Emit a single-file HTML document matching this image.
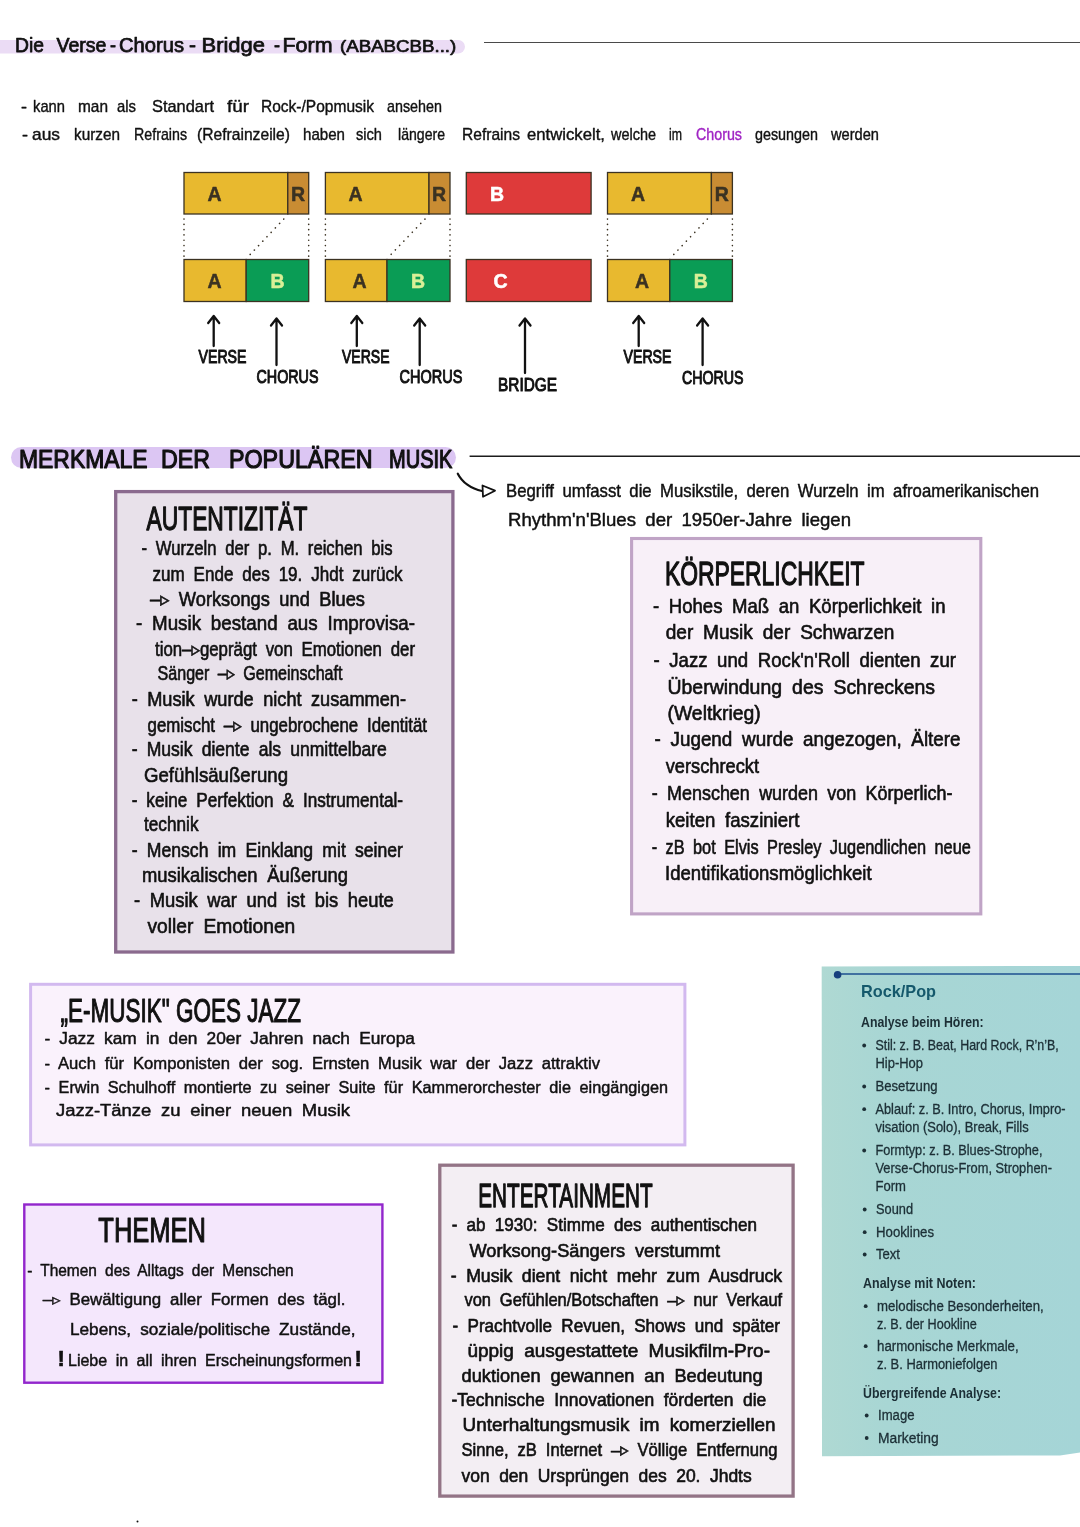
<!DOCTYPE html>
<html lang="de"><head><meta charset="utf-8"><title>Die Verse-Chorus-Bridge-Form</title>
<style>
html,body{margin:0;padding:0;background:#fff;}
svg{display:block;will-change:transform;}
text{font-family:"Liberation Sans","DejaVu Sans",sans-serif;stroke-linejoin:round;}
.tl text{font-family:"Liberation Sans","DejaVu Sans",sans-serif;}
</style></head><body>
<svg width="1080" height="1527" viewBox="0 0 1080 1527">
<rect x="-10" y="40" width="475" height="13.6" rx="6.8" fill="#ebdcf5"/>
<line x1="484" y1="42.5" x2="1080" y2="42.5" stroke="#4a4a4a" stroke-width="1.1"/>
<text y="51.9" font-size="20.8" fill="#111111" stroke="#111111" stroke-width="0.75"><tspan x="15.0" textLength="29.0" lengthAdjust="spacingAndGlyphs">Die</tspan> <tspan x="56.5" textLength="50.0" lengthAdjust="spacingAndGlyphs">Verse</tspan> <tspan x="110.0" textLength="6.0" lengthAdjust="spacingAndGlyphs">-</tspan> <tspan x="119.0" textLength="65.0" lengthAdjust="spacingAndGlyphs">Chorus</tspan> <tspan x="189.0" textLength="7.0" lengthAdjust="spacingAndGlyphs">-</tspan> <tspan x="201.5" textLength="63.5" lengthAdjust="spacingAndGlyphs">Bridge</tspan> <tspan x="274.0" textLength="6.0" lengthAdjust="spacingAndGlyphs">-</tspan> <tspan x="282.5" textLength="50.0" lengthAdjust="spacingAndGlyphs">Form</tspan></text>
<text x="340.0" y="51.9" font-size="17" fill="#111111" stroke="#111111" stroke-width="0.7" textLength="116.3" lengthAdjust="spacingAndGlyphs">(ABABCBB...)</text>
<text y="111.5" font-size="17" fill="#111111" stroke="#111111" stroke-width="0.4"><tspan x="21.0" textLength="6.0" lengthAdjust="spacingAndGlyphs">-</tspan> <tspan x="33.0" textLength="32.0" lengthAdjust="spacingAndGlyphs">kann</tspan> <tspan x="78.0" textLength="30.0" lengthAdjust="spacingAndGlyphs">man</tspan> <tspan x="117.0" textLength="19.0" lengthAdjust="spacingAndGlyphs">als</tspan> <tspan x="152.0" textLength="62.0" lengthAdjust="spacingAndGlyphs">Standart</tspan> <tspan x="227.0" textLength="22.0" lengthAdjust="spacingAndGlyphs">für</tspan> <tspan x="261.0" textLength="113.0" lengthAdjust="spacingAndGlyphs">Rock-/Popmusik</tspan> <tspan x="387.0" textLength="55.0" lengthAdjust="spacingAndGlyphs">ansehen</tspan></text>
<text y="140.0" font-size="17" fill="#111111" stroke="#111111" stroke-width="0.4"><tspan x="22.0" textLength="6.0" lengthAdjust="spacingAndGlyphs">-</tspan> <tspan x="32.0" textLength="28.0" lengthAdjust="spacingAndGlyphs">aus</tspan> <tspan x="74.0" textLength="46.0" lengthAdjust="spacingAndGlyphs">kurzen</tspan> <tspan x="134.0" textLength="53.0" lengthAdjust="spacingAndGlyphs">Refrains</tspan> <tspan x="197.0" textLength="93.0" lengthAdjust="spacingAndGlyphs">(Refrainzeile)</tspan> <tspan x="303.0" textLength="42.0" lengthAdjust="spacingAndGlyphs">haben</tspan> <tspan x="356.0" textLength="26.0" lengthAdjust="spacingAndGlyphs">sich</tspan> <tspan x="398.0" textLength="47.0" lengthAdjust="spacingAndGlyphs">längere</tspan> <tspan x="462.0" textLength="58.0" lengthAdjust="spacingAndGlyphs">Refrains</tspan> <tspan x="527.0" textLength="78.0" lengthAdjust="spacingAndGlyphs">entwickelt,</tspan> <tspan x="611.0" textLength="45.0" lengthAdjust="spacingAndGlyphs">welche</tspan> <tspan x="669.0" textLength="13.0" lengthAdjust="spacingAndGlyphs">im</tspan> <tspan x="696.0" textLength="46.0" lengthAdjust="spacingAndGlyphs" fill="#a024c4" stroke="#a024c4">Chorus</tspan> <tspan x="755.0" textLength="63.0" lengthAdjust="spacingAndGlyphs">gesungen</tspan> <tspan x="831.0" textLength="48.0" lengthAdjust="spacingAndGlyphs">werden</tspan></text>
<rect x="184.0" y="172.5" width="103.8" height="41.5" fill="#e8b92f" stroke="#3b3222" stroke-width="1.3"/>
<rect x="287.8" y="172.5" width="20.9" height="41.5" fill="#c98c33" stroke="#3b3222" stroke-width="1.3"/>
<rect x="184.0" y="259.5" width="62.2" height="42.0" fill="#e8b92f" stroke="#3b3222" stroke-width="1.3"/>
<rect x="246.2" y="259.5" width="62.5" height="42.0" fill="#0a9c55" stroke="#3b3222" stroke-width="1.3"/>
<text x="214.5" y="200.5" font-size="19.5" fill="#3b3222" font-weight="bold" text-anchor="middle" stroke="#3b3222" stroke-width="0.5">A</text>
<text x="298.0" y="200.5" font-size="19.5" fill="#3b3222" font-weight="bold" text-anchor="middle" stroke="#3b3222" stroke-width="0.5">R</text>
<text x="214.5" y="288.0" font-size="19.5" fill="#3b3222" font-weight="bold" text-anchor="middle" stroke="#3b3222" stroke-width="0.5">A</text>
<text x="277.6" y="288.0" font-size="19.5" fill="#d9ef97" font-weight="bold" text-anchor="middle" stroke="#d9ef97" stroke-width="0.5">B</text>
<line x1="184.0" y1="219.0" x2="184.0" y2="257.5" stroke="#3b3222" stroke-width="1.6" stroke-linecap="round" stroke-dasharray="0.1 5.2"/>
<line x1="308.7" y1="219.0" x2="308.7" y2="257.5" stroke="#3b3222" stroke-width="1.6" stroke-linecap="round" stroke-dasharray="0.1 5.2"/>
<line x1="283.8" y1="219.0" x2="249.2" y2="255.5" stroke="#3b3222" stroke-width="1.6" stroke-linecap="round" stroke-dasharray="0.1 6"/>
<rect x="325.4" y="172.5" width="103.6" height="41.5" fill="#e8b92f" stroke="#3b3222" stroke-width="1.3"/>
<rect x="429.0" y="172.5" width="21.0" height="41.5" fill="#c98c33" stroke="#3b3222" stroke-width="1.3"/>
<rect x="325.4" y="259.5" width="61.6" height="42.0" fill="#e8b92f" stroke="#3b3222" stroke-width="1.3"/>
<rect x="387.0" y="259.5" width="63.0" height="42.0" fill="#0a9c55" stroke="#3b3222" stroke-width="1.3"/>
<text x="355.5" y="200.5" font-size="19.5" fill="#3b3222" font-weight="bold" text-anchor="middle" stroke="#3b3222" stroke-width="0.5">A</text>
<text x="439.0" y="200.5" font-size="19.5" fill="#3b3222" font-weight="bold" text-anchor="middle" stroke="#3b3222" stroke-width="0.5">R</text>
<text x="359.5" y="288.0" font-size="19.5" fill="#3b3222" font-weight="bold" text-anchor="middle" stroke="#3b3222" stroke-width="0.5">A</text>
<text x="418.0" y="288.0" font-size="19.5" fill="#d9ef97" font-weight="bold" text-anchor="middle" stroke="#d9ef97" stroke-width="0.5">B</text>
<line x1="325.4" y1="219.0" x2="325.4" y2="257.5" stroke="#3b3222" stroke-width="1.6" stroke-linecap="round" stroke-dasharray="0.1 5.2"/>
<line x1="450.0" y1="219.0" x2="450.0" y2="257.5" stroke="#3b3222" stroke-width="1.6" stroke-linecap="round" stroke-dasharray="0.1 5.2"/>
<line x1="425.0" y1="219.0" x2="390.0" y2="255.5" stroke="#3b3222" stroke-width="1.6" stroke-linecap="round" stroke-dasharray="0.1 6"/>
<rect x="607.5" y="172.5" width="103.9" height="41.5" fill="#e8b92f" stroke="#3b3222" stroke-width="1.3"/>
<rect x="711.4" y="172.5" width="21.0" height="41.5" fill="#c98c33" stroke="#3b3222" stroke-width="1.3"/>
<rect x="607.5" y="259.5" width="62.3" height="42.0" fill="#e8b92f" stroke="#3b3222" stroke-width="1.3"/>
<rect x="669.8" y="259.5" width="62.6" height="42.0" fill="#0a9c55" stroke="#3b3222" stroke-width="1.3"/>
<text x="638.0" y="200.5" font-size="19.5" fill="#3b3222" font-weight="bold" text-anchor="middle" stroke="#3b3222" stroke-width="0.5">A</text>
<text x="721.7" y="200.5" font-size="19.5" fill="#3b3222" font-weight="bold" text-anchor="middle" stroke="#3b3222" stroke-width="0.5">R</text>
<text x="642.0" y="288.0" font-size="19.5" fill="#3b3222" font-weight="bold" text-anchor="middle" stroke="#3b3222" stroke-width="0.5">A</text>
<text x="700.7" y="288.0" font-size="19.5" fill="#d9ef97" font-weight="bold" text-anchor="middle" stroke="#d9ef97" stroke-width="0.5">B</text>
<line x1="607.5" y1="219.0" x2="607.5" y2="257.5" stroke="#3b3222" stroke-width="1.6" stroke-linecap="round" stroke-dasharray="0.1 5.2"/>
<line x1="732.4" y1="219.0" x2="732.4" y2="257.5" stroke="#3b3222" stroke-width="1.6" stroke-linecap="round" stroke-dasharray="0.1 5.2"/>
<line x1="707.4" y1="219.0" x2="672.8" y2="255.5" stroke="#3b3222" stroke-width="1.6" stroke-linecap="round" stroke-dasharray="0.1 6"/>
<rect x="466.3" y="172.5" width="124.8" height="41.5" fill="#de3a3a" stroke="#3b3222" stroke-width="1.3"/>
<rect x="466.3" y="259.5" width="124.8" height="42.0" fill="#de3a3a" stroke="#3b3222" stroke-width="1.3"/>
<text x="497.0" y="200.5" font-size="19.5" fill="#fff" font-weight="bold" text-anchor="middle" stroke="#fff" stroke-width="0.5">B</text>
<text x="500.6" y="288.0" font-size="19.5" fill="#fff" font-weight="bold" text-anchor="middle" stroke="#fff" stroke-width="0.5">C</text>
<path d="M213.7 346.0 L213.7 317.0 M208.2 323.0 L213.7 316.0 L219.2 323.0" fill="none" stroke="#111111" stroke-width="2.3" stroke-linecap="round" stroke-linejoin="round"/>
<text x="198.5" y="363.0" font-size="18" fill="#111111" stroke="#111111" stroke-width="1.0" textLength="48.0" lengthAdjust="spacingAndGlyphs">VERSE</text>
<path d="M276.5 365.0 L276.5 319.5 M271.0 325.5 L276.5 318.5 L282.0 325.5" fill="none" stroke="#111111" stroke-width="2.3" stroke-linecap="round" stroke-linejoin="round"/>
<text x="256.5" y="383.0" font-size="18" fill="#111111" stroke="#111111" stroke-width="1.0" textLength="62.0" lengthAdjust="spacingAndGlyphs">CHORUS</text>
<path d="M356.8 346.0 L356.8 317.0 M351.3 323.0 L356.8 316.0 L362.3 323.0" fill="none" stroke="#111111" stroke-width="2.3" stroke-linecap="round" stroke-linejoin="round"/>
<text x="342.0" y="363.0" font-size="18" fill="#111111" stroke="#111111" stroke-width="1.0" textLength="47.5" lengthAdjust="spacingAndGlyphs">VERSE</text>
<path d="M419.7 365.0 L419.7 319.5 M414.2 325.5 L419.7 318.5 L425.2 325.5" fill="none" stroke="#111111" stroke-width="2.3" stroke-linecap="round" stroke-linejoin="round"/>
<text x="399.5" y="383.0" font-size="18" fill="#111111" stroke="#111111" stroke-width="1.0" textLength="62.8" lengthAdjust="spacingAndGlyphs">CHORUS</text>
<path d="M525.0 373.0 L525.0 319.5 M519.5 325.5 L525.0 318.5 L530.5 325.5" fill="none" stroke="#111111" stroke-width="2.3" stroke-linecap="round" stroke-linejoin="round"/>
<text x="498.0" y="390.5" font-size="18" fill="#111111" stroke="#111111" stroke-width="1.0" textLength="59.0" lengthAdjust="spacingAndGlyphs">BRIDGE</text>
<path d="M638.7 346.0 L638.7 317.0 M633.2 323.0 L638.7 316.0 L644.2 323.0" fill="none" stroke="#111111" stroke-width="2.3" stroke-linecap="round" stroke-linejoin="round"/>
<text x="623.5" y="363.0" font-size="18" fill="#111111" stroke="#111111" stroke-width="1.0" textLength="48.0" lengthAdjust="spacingAndGlyphs">VERSE</text>
<path d="M702.6 365.0 L702.6 319.5 M697.1 325.5 L702.6 318.5 L708.1 325.5" fill="none" stroke="#111111" stroke-width="2.3" stroke-linecap="round" stroke-linejoin="round"/>
<text x="682.0" y="384.0" font-size="18" fill="#111111" stroke="#111111" stroke-width="1.0" textLength="61.6" lengthAdjust="spacingAndGlyphs">CHORUS</text>
<rect x="11" y="447" width="445" height="21" rx="10.5" fill="#dcc6f3"/>
<line x1="469.6" y1="456.3" x2="1080" y2="456.3" stroke="#1c1c1c" stroke-width="1.5"/>
<text y="467.5" font-size="25.5" fill="#111111" stroke="#111111" stroke-width="1.15"><tspan x="19.0" textLength="128.5" lengthAdjust="spacingAndGlyphs">MERKMALE</tspan> <tspan x="161.0" textLength="49.0" lengthAdjust="spacingAndGlyphs">DER</tspan> <tspan x="229.0" textLength="143.5" lengthAdjust="spacingAndGlyphs">POPULÄREN</tspan> <tspan x="389.0" textLength="63.5" lengthAdjust="spacingAndGlyphs">MUSIK</tspan></text>
<path d="M457.8 473.7 C462 482 471 489 482 491" fill="none" stroke="#111111" stroke-width="2.2" stroke-linecap="round"/>
<path d="M482.5 485.5 L495 490.7 L483 496.7 Z" fill="none" stroke="#111111" stroke-width="1.8" stroke-linejoin="round"/>
<text x="506.0" y="496.7" font-size="17.8" fill="#111111" stroke="#111111" stroke-width="0.45" textLength="533.0" lengthAdjust="spacingAndGlyphs" word-spacing="4">Begriff umfasst die Musikstile, deren Wurzeln im afroamerikanischen</text>
<text x="508.0" y="526.0" font-size="17.8" fill="#111111" stroke="#111111" stroke-width="0.45" textLength="343.0" lengthAdjust="spacingAndGlyphs" word-spacing="4">Rhythm'n'Blues der 1950er-Jahre liegen</text>
<rect x="115.7" y="491.6" width="337.2" height="460.4" fill="#e8e1ea" stroke="#8a6a8e" stroke-width="3.3"/>
<text x="146.5" y="530.0" font-size="34" fill="#111111" stroke="#111111" stroke-width="1.3" textLength="161.0" lengthAdjust="spacingAndGlyphs">AUTENTIZITÄT</text>
<text x="141.5" y="555.0" font-size="20.5" fill="#111111" stroke="#111111" stroke-width="0.65" textLength="251.0" lengthAdjust="spacingAndGlyphs" word-spacing="5">- Wurzeln der p. M. reichen bis</text>
<text x="152.5" y="581.0" font-size="20.5" fill="#111111" stroke="#111111" stroke-width="0.65" textLength="250.0" lengthAdjust="spacingAndGlyphs" word-spacing="5">zum Ende des 19. Jhdt zurück</text>
<text x="150.0" y="606.0" font-size="20.5" fill="#111111" stroke="#111111" stroke-width="0.65" textLength="215.0" lengthAdjust="spacingAndGlyphs" word-spacing="5">–▹ Worksongs und Blues</text>
<text x="136.0" y="630.0" font-size="20.5" fill="#111111" stroke="#111111" stroke-width="0.65" textLength="279.0" lengthAdjust="spacingAndGlyphs" word-spacing="5">- Musik bestand aus Improvisa-</text>
<text x="155.0" y="656.0" font-size="20.5" fill="#111111" stroke="#111111" stroke-width="0.65" textLength="260.0" lengthAdjust="spacingAndGlyphs" word-spacing="5">tion–▹geprägt von Emotionen der</text>
<text x="157.5" y="680.0" font-size="20.5" fill="#111111" stroke="#111111" stroke-width="0.65" textLength="185.0" lengthAdjust="spacingAndGlyphs" word-spacing="5">Sänger –▹ Gemeinschaft</text>
<text x="131.7" y="706.4" font-size="20.5" fill="#111111" stroke="#111111" stroke-width="0.65" textLength="274.3" lengthAdjust="spacingAndGlyphs" word-spacing="5">- Musik wurde nicht zusammen-</text>
<text x="147.5" y="732.0" font-size="20.5" fill="#111111" stroke="#111111" stroke-width="0.65" textLength="279.5" lengthAdjust="spacingAndGlyphs" word-spacing="5">gemischt –▹ ungebrochene Identität</text>
<text x="131.7" y="755.6" font-size="20.5" fill="#111111" stroke="#111111" stroke-width="0.65" textLength="255.1" lengthAdjust="spacingAndGlyphs" word-spacing="5">- Musik diente als unmittelbare</text>
<text x="144.0" y="782.0" font-size="20.5" fill="#111111" stroke="#111111" stroke-width="0.65" textLength="144.0" lengthAdjust="spacingAndGlyphs" word-spacing="5">Gefühlsäußerung</text>
<text x="131.7" y="806.7" font-size="20.5" fill="#111111" stroke="#111111" stroke-width="0.65" textLength="271.3" lengthAdjust="spacingAndGlyphs" word-spacing="5">- keine Perfektion &amp; Instrumental-</text>
<text x="144.0" y="830.6" font-size="20.5" fill="#111111" stroke="#111111" stroke-width="0.65" textLength="54.5" lengthAdjust="spacingAndGlyphs" word-spacing="5">technik</text>
<text x="131.7" y="857.0" font-size="20.5" fill="#111111" stroke="#111111" stroke-width="0.65" textLength="271.3" lengthAdjust="spacingAndGlyphs" word-spacing="5">- Mensch im Einklang mit seiner</text>
<text x="142.0" y="882.3" font-size="20.5" fill="#111111" stroke="#111111" stroke-width="0.65" textLength="206.0" lengthAdjust="spacingAndGlyphs" word-spacing="5">musikalischen Äußerung</text>
<text x="134.0" y="907.0" font-size="20.5" fill="#111111" stroke="#111111" stroke-width="0.65" textLength="259.8" lengthAdjust="spacingAndGlyphs" word-spacing="5">- Musik war und ist bis heute</text>
<text x="147.5" y="932.6" font-size="20.5" fill="#111111" stroke="#111111" stroke-width="0.65" textLength="147.8" lengthAdjust="spacingAndGlyphs" word-spacing="5">voller Emotionen</text>
<rect x="631.6" y="538.5" width="349.2" height="375.4" fill="#f8f0f8" stroke="#c0a4c6" stroke-width="3.1"/>
<text x="665.0" y="584.8" font-size="34" fill="#111111" stroke="#111111" stroke-width="1.3" textLength="199.5" lengthAdjust="spacingAndGlyphs">KÖRPERLICHKEIT</text>
<text x="653.0" y="612.5" font-size="21" fill="#111111" stroke="#111111" stroke-width="0.65" textLength="292.5" lengthAdjust="spacingAndGlyphs" word-spacing="5">- Hohes Maß an Körperlichkeit in</text>
<text x="665.7" y="639.0" font-size="21" fill="#111111" stroke="#111111" stroke-width="0.65" textLength="228.8" lengthAdjust="spacingAndGlyphs" word-spacing="5">der Musik der Schwarzen</text>
<text x="653.4" y="666.5" font-size="21" fill="#111111" stroke="#111111" stroke-width="0.65" textLength="302.6" lengthAdjust="spacingAndGlyphs" word-spacing="5">- Jazz und Rock'n'Roll dienten zur</text>
<text x="667.5" y="693.6" font-size="21" fill="#111111" stroke="#111111" stroke-width="0.65" textLength="267.5" lengthAdjust="spacingAndGlyphs" word-spacing="5">Überwindung des Schreckens</text>
<text x="667.5" y="720.0" font-size="21" fill="#111111" stroke="#111111" stroke-width="0.65" textLength="93.2" lengthAdjust="spacingAndGlyphs" word-spacing="5">(Weltkrieg)</text>
<text x="654.5" y="746.4" font-size="21" fill="#111111" stroke="#111111" stroke-width="0.65" textLength="306.1" lengthAdjust="spacingAndGlyphs" word-spacing="5">- Jugend wurde angezogen, Ältere</text>
<text x="665.7" y="772.8" font-size="21" fill="#111111" stroke="#111111" stroke-width="0.65" textLength="93.3" lengthAdjust="spacingAndGlyphs" word-spacing="5">verschreckt</text>
<text x="651.7" y="800.0" font-size="21" fill="#111111" stroke="#111111" stroke-width="0.65" textLength="300.8" lengthAdjust="spacingAndGlyphs" word-spacing="5">- Menschen wurden von Körperlich-</text>
<text x="665.7" y="826.6" font-size="21" fill="#111111" stroke="#111111" stroke-width="0.65" textLength="133.8" lengthAdjust="spacingAndGlyphs" word-spacing="5">keiten fasziniert</text>
<text x="651.7" y="854.0" font-size="21" fill="#111111" stroke="#111111" stroke-width="0.65" textLength="319.1" lengthAdjust="spacingAndGlyphs" word-spacing="5">- zB bot Elvis Presley Jugendlichen neue</text>
<text x="665.0" y="880.0" font-size="21" fill="#111111" stroke="#111111" stroke-width="0.65" textLength="206.6" lengthAdjust="spacingAndGlyphs" word-spacing="5">Identifikationsmöglichkeit</text>
<rect x="30.6" y="984.3" width="654.3" height="160.6" fill="#faf2fc" stroke="#d2b9ef" stroke-width="3"/>
<text x="60.5" y="1022.0" font-size="33" fill="#111111" stroke="#111111" stroke-width="1.1" textLength="240.5" lengthAdjust="spacingAndGlyphs">„E-MUSIK" GOES JAZZ</text>
<text x="44.4" y="1044.0" font-size="16" fill="#111111" stroke="#111111" stroke-width="0.45" textLength="370.6" lengthAdjust="spacingAndGlyphs" word-spacing="4">- Jazz kam in den 20er Jahren nach Europa</text>
<text x="44.6" y="1068.5" font-size="16" fill="#111111" stroke="#111111" stroke-width="0.45" textLength="555.4" lengthAdjust="spacingAndGlyphs" word-spacing="4">- Auch für Komponisten der sog. Ernsten Musik war der Jazz attraktiv</text>
<text x="44.6" y="1093.0" font-size="16" fill="#111111" stroke="#111111" stroke-width="0.45" textLength="623.4" lengthAdjust="spacingAndGlyphs" word-spacing="4">- Erwin Schulhoff montierte zu seiner Suite für Kammerorchester die eingängigen</text>
<text x="56.0" y="1116.0" font-size="16" fill="#111111" stroke="#111111" stroke-width="0.45" textLength="294.0" lengthAdjust="spacingAndGlyphs" word-spacing="4">Jazz-Tänze zu einer neuen Musik</text>
<rect x="24.3" y="1204.5" width="358.1" height="178.2" fill="#f4e7fc" stroke="#9226cc" stroke-width="2.4"/>
<text x="98.3" y="1241.7" font-size="35" fill="#111111" stroke="#111111" stroke-width="1.1" textLength="107.7" lengthAdjust="spacingAndGlyphs">THEMEN</text>
<text x="27.2" y="1276.0" font-size="16" fill="#111111" stroke="#111111" stroke-width="0.45" textLength="266.5" lengthAdjust="spacingAndGlyphs" word-spacing="4">- Themen des Alltags der Menschen</text>
<text x="42.8" y="1305.0" font-size="16" fill="#111111" stroke="#111111" stroke-width="0.45" textLength="302.6" lengthAdjust="spacingAndGlyphs" word-spacing="4">–▹ Bewältigung aller Formen des tägl.</text>
<text x="70.0" y="1335.0" font-size="16" fill="#111111" stroke="#111111" stroke-width="0.45" textLength="285.5" lengthAdjust="spacingAndGlyphs" word-spacing="4">Lebens, soziale/politische Zustände,</text>
<text y="1365.5" font-size="16" fill="#111111" stroke="#111111" stroke-width="0.45" word-spacing="4"><tspan x="57.5" font-size="22" font-weight="bold" stroke-width="0.6">!</tspan><tspan x="68" textLength="284" lengthAdjust="spacingAndGlyphs">Liebe in all ihren Erscheinungsformen</tspan><tspan x="354.5" font-size="22" font-weight="bold" stroke-width="0.6">!</tspan></text>
<rect x="439.8" y="1165.2" width="353.3" height="330.9" fill="#f3eef3" stroke="#937486" stroke-width="3.3"/>
<text x="478.3" y="1207.2" font-size="34" fill="#111111" stroke="#111111" stroke-width="1.3" textLength="174.3" lengthAdjust="spacingAndGlyphs">ENTERTAINMENT</text>
<text x="451.7" y="1230.8" font-size="19" fill="#111111" stroke="#111111" stroke-width="0.65" textLength="305.3" lengthAdjust="spacingAndGlyphs" word-spacing="5">- ab 1930: Stimme des authentischen</text>
<text x="469.4" y="1256.7" font-size="19" fill="#111111" stroke="#111111" stroke-width="0.65" textLength="250.6" lengthAdjust="spacingAndGlyphs" word-spacing="5">Worksong-Sängers verstummt</text>
<text x="450.7" y="1281.5" font-size="19" fill="#111111" stroke="#111111" stroke-width="0.65" textLength="331.5" lengthAdjust="spacingAndGlyphs" word-spacing="5">- Musik dient nicht mehr zum Ausdruck</text>
<text x="464.4" y="1305.6" font-size="19" fill="#111111" stroke="#111111" stroke-width="0.65" textLength="317.8" lengthAdjust="spacingAndGlyphs" word-spacing="5">von Gefühlen/Botschaften –▹ nur Verkauf</text>
<text x="452.6" y="1331.5" font-size="19" fill="#111111" stroke="#111111" stroke-width="0.65" textLength="327.4" lengthAdjust="spacingAndGlyphs" word-spacing="5">- Prachtvolle Revuen, Shows und später</text>
<text x="467.4" y="1357.4" font-size="19" fill="#111111" stroke="#111111" stroke-width="0.65" textLength="302.6" lengthAdjust="spacingAndGlyphs" word-spacing="5">üppig ausgestattete Musikfilm-Pro-</text>
<text x="461.5" y="1381.5" font-size="19" fill="#111111" stroke="#111111" stroke-width="0.65" textLength="301.1" lengthAdjust="spacingAndGlyphs" word-spacing="5">duktionen gewannen an Bedeutung</text>
<text x="451.5" y="1406.3" font-size="19" fill="#111111" stroke="#111111" stroke-width="0.65" textLength="314.8" lengthAdjust="spacingAndGlyphs" word-spacing="5">-Technische Innovationen förderten die</text>
<text x="462.6" y="1430.6" font-size="19" fill="#111111" stroke="#111111" stroke-width="0.65" textLength="313.0" lengthAdjust="spacingAndGlyphs" word-spacing="5">Unterhaltungsmusik im komerziellen</text>
<text x="461.5" y="1456.0" font-size="19" fill="#111111" stroke="#111111" stroke-width="0.65" textLength="315.9" lengthAdjust="spacingAndGlyphs" word-spacing="5">Sinne, zB Internet –▹ Völlige Entfernung</text>
<text x="461.5" y="1482.0" font-size="19" fill="#111111" stroke="#111111" stroke-width="0.65" textLength="290.2" lengthAdjust="spacingAndGlyphs" word-spacing="5">von den Ursprüngen des 20. Jhdts</text>
<circle cx="137.5" cy="1521.5" r="1" fill="#111111"/>
<defs><linearGradient id="tg" x1="0" y1="0" x2="1" y2="0"><stop offset="0" stop-color="#afd9d3"/><stop offset="0.25" stop-color="#a8d6d4"/><stop offset="1" stop-color="#a5d5d7"/></linearGradient></defs>
<path d="M821.7 966.4 L1081 966 L1081 1452.4 L1060 1455.4 L822 1456.3 Z" fill="url(#tg)"/>
<line x1="837.5" y1="974" x2="1080" y2="974" stroke="#1d4f8f" stroke-width="1.5"/>
<circle cx="837.6" cy="974.7" r="3.8" fill="#173f7d"/>
<text x="861.0" y="996.6" font-size="17" fill="#15596c" font-weight="bold" textLength="75.0" lengthAdjust="spacingAndGlyphs">Rock/Pop</text>
<text x="861.0" y="1026.8" font-size="13.8" fill="#1c2f36" font-weight="bold" textLength="122.7" lengthAdjust="spacingAndGlyphs">Analyse beim Hören:</text>
<circle cx="864.2" cy="1045.5" r="1.9" fill="#1c2f36"/>
<text x="875.5" y="1050.0" font-size="13.8" fill="#1c2f36" stroke="#1c2f36" stroke-width="0.3" textLength="183.2" lengthAdjust="spacingAndGlyphs">Stil: z. B. Beat, Hard Rock, R’n’B,</text>
<text x="875.5" y="1067.5" font-size="13.8" fill="#1c2f36" stroke="#1c2f36" stroke-width="0.3" textLength="47.5" lengthAdjust="spacingAndGlyphs">Hip-Hop</text>
<circle cx="864.2" cy="1086.5" r="1.9" fill="#1c2f36"/>
<text x="875.5" y="1091.0" font-size="13.8" fill="#1c2f36" stroke="#1c2f36" stroke-width="0.3" textLength="62.0" lengthAdjust="spacingAndGlyphs">Besetzung</text>
<circle cx="864.2" cy="1109.2" r="1.9" fill="#1c2f36"/>
<text x="875.5" y="1113.7" font-size="13.8" fill="#1c2f36" stroke="#1c2f36" stroke-width="0.3" textLength="190.0" lengthAdjust="spacingAndGlyphs">Ablauf: z. B. Intro, Chorus, Impro-</text>
<text x="875.5" y="1132.0" font-size="13.8" fill="#1c2f36" stroke="#1c2f36" stroke-width="0.3" textLength="153.2" lengthAdjust="spacingAndGlyphs">visation (Solo), Break, Fills</text>
<circle cx="864.2" cy="1150.5" r="1.9" fill="#1c2f36"/>
<text x="875.5" y="1155.0" font-size="13.8" fill="#1c2f36" stroke="#1c2f36" stroke-width="0.3" textLength="167.0" lengthAdjust="spacingAndGlyphs">Formtyp: z. B. Blues-Strophe,</text>
<text x="875.5" y="1173.0" font-size="13.8" fill="#1c2f36" stroke="#1c2f36" stroke-width="0.3" textLength="176.5" lengthAdjust="spacingAndGlyphs">Verse-Chorus-From, Strophen-</text>
<text x="875.5" y="1191.0" font-size="13.8" fill="#1c2f36" stroke="#1c2f36" stroke-width="0.3" textLength="30.5" lengthAdjust="spacingAndGlyphs">Form</text>
<circle cx="864.7" cy="1209.5" r="1.9" fill="#1c2f36"/>
<text x="876.0" y="1214.0" font-size="13.8" fill="#1c2f36" stroke="#1c2f36" stroke-width="0.3" textLength="37.0" lengthAdjust="spacingAndGlyphs">Sound</text>
<circle cx="864.7" cy="1232.2" r="1.9" fill="#1c2f36"/>
<text x="876.0" y="1236.7" font-size="13.8" fill="#1c2f36" stroke="#1c2f36" stroke-width="0.3" textLength="58.0" lengthAdjust="spacingAndGlyphs">Hooklines</text>
<circle cx="864.7" cy="1254.5" r="1.9" fill="#1c2f36"/>
<text x="876.0" y="1259.0" font-size="13.8" fill="#1c2f36" stroke="#1c2f36" stroke-width="0.3" textLength="24.0" lengthAdjust="spacingAndGlyphs">Text</text>
<text x="863.0" y="1288.0" font-size="13.8" fill="#1c2f36" font-weight="bold" textLength="113.0" lengthAdjust="spacingAndGlyphs">Analyse mit Noten:</text>
<circle cx="865.7" cy="1306.2" r="1.9" fill="#1c2f36"/>
<text x="877.0" y="1310.7" font-size="13.8" fill="#1c2f36" stroke="#1c2f36" stroke-width="0.3" textLength="166.7" lengthAdjust="spacingAndGlyphs">melodische Besonderheiten,</text>
<text x="877.0" y="1328.7" font-size="13.8" fill="#1c2f36" stroke="#1c2f36" stroke-width="0.3" textLength="99.7" lengthAdjust="spacingAndGlyphs">z. B. der Hookline</text>
<circle cx="865.7" cy="1346.2" r="1.9" fill="#1c2f36"/>
<text x="877.0" y="1350.7" font-size="13.8" fill="#1c2f36" stroke="#1c2f36" stroke-width="0.3" textLength="141.7" lengthAdjust="spacingAndGlyphs">harmonische Merkmale,</text>
<text x="877.0" y="1368.7" font-size="13.8" fill="#1c2f36" stroke="#1c2f36" stroke-width="0.3" textLength="120.5" lengthAdjust="spacingAndGlyphs">z. B. Harmoniefolgen</text>
<text x="863.0" y="1398.0" font-size="13.8" fill="#1c2f36" font-weight="bold" textLength="138.0" lengthAdjust="spacingAndGlyphs">Übergreifende Analyse:</text>
<circle cx="866.7" cy="1415.5" r="1.9" fill="#1c2f36"/>
<text x="878.0" y="1420.0" font-size="13.8" fill="#1c2f36" stroke="#1c2f36" stroke-width="0.3" textLength="36.5" lengthAdjust="spacingAndGlyphs">Image</text>
<circle cx="866.7" cy="1438.0" r="1.9" fill="#1c2f36"/>
<text x="878.0" y="1442.5" font-size="13.8" fill="#1c2f36" stroke="#1c2f36" stroke-width="0.3" textLength="60.7" lengthAdjust="spacingAndGlyphs">Marketing</text>
</svg>
</body></html>
